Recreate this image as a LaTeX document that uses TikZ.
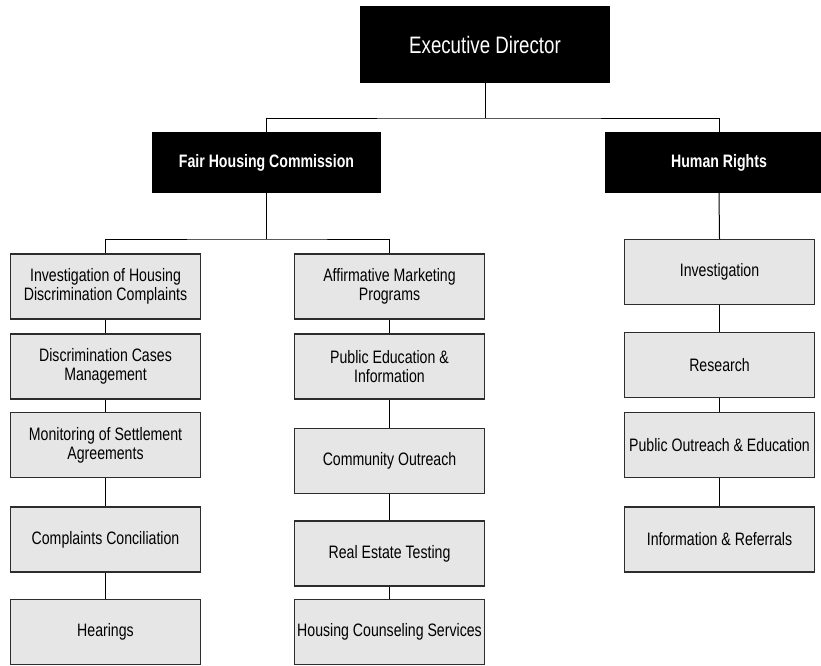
\documentclass[tikz,border=0pt]{standalone}
\usepackage{fontspec}
\setmainfont[FakeStretch=0.785]{Liberation Sans}
\definecolor{boxfill}{RGB}{230,230,230}
\definecolor{boxline}{RGB}{45,45,45}
\begin{document}
\begin{tikzpicture}[x=1pt,y=-1pt,
  topbox/.style={fill=black,draw=none,text=white,inner sep=2pt,align=center},
  unit/.style={fill=boxfill,draw=boxline,line width=1.1pt,minimum width=190pt,minimum height=65pt,inner sep=2pt,align=center,font=\fontsize{18}{19}\selectfont},
  conn/.style={draw=black,line width=1pt}]
\useasboundingbox (0,0) rectangle (821,665);
\fill[white] (0,0) rectangle (821,665);
% top level
\node[topbox,minimum width=250pt,minimum height=77pt,font=\fontsize{23.8}{27}\selectfont] (ed) at (485,44.5) {Executive Director};
\node[topbox,minimum width=229pt,minimum height=61pt,font=\bfseries\fontsize{18}{21}\selectfont] (fh) at (266.5,162.5) {Fair Housing Commission};
\node[topbox,minimum width=228pt,minimum height=61pt,font=\bfseries\fontsize{18}{21}\selectfont] (hr) at (719,162.5) {Human Rights};
% left column
\node[unit] (l1) at (105.5,286.5) {Investigation of Housing\\Discrimination Complaints};
\node[unit] (l2) at (105.5,366.5) {Discrimination Cases\\Management};
\node[unit] (l3) at (105.5,445) {Monitoring of Settlement\\Agreements};
\node[unit] (l4) at (105.5,539.5) {Complaints Conciliation};
\node[unit] (l5) at (105.5,632) {Hearings};
% middle column
\node[unit] (m1) at (389.5,286.5) {Affirmative Marketing\\Programs};
\node[unit] (m2) at (389.5,366.5) {Public Education \&\\Information};
\node[unit] (m3) at (389.5,461) {Community Outreach};
\node[unit] (m4) at (389.5,553.5) {Real Estate Testing};
\node[unit] (m5) at (389.5,632) {Housing Counseling Services};
% right column
\node[unit] (r1) at (719.5,272) {Investigation};
\node[unit] (r2) at (719.5,365) {Research};
\node[unit] (r3) at (719.5,445) {Public Outreach \& Education};
\node[unit] (r4) at (719.5,539.5) {Information \& Referrals};
% connectors
\coordinate (b1) at (485,118);
\coordinate (b2) at (266.5,239);
\draw[conn] (ed.south) -- (b1);
\draw[conn] (fh.north) |- (b1) -| (hr.north);
\draw[conn] (fh.south) -- (b2);
\draw[conn] (l1.north) |- (b2) -| (m1.north);
\draw[conn] (l1.south) -- (l2.north);
\draw[conn] (l2.south) -- (l3.north);
\draw[conn] (l3.south) -- (l4.north);
\draw[conn] (l4.south) -- (l5.north);
\draw[conn] (m1.south) -- (m2.north);
\draw[conn] (m2.south) -- (m3.north);
\draw[conn] (m3.south) -- (m4.north);
\draw[conn] (m4.south) -- (m5.north);
\draw[conn] (hr.south) -- (r1.north);
\draw[conn] (r1.south) -- (r2.north);
\draw[conn] (r2.south) -- (r3.north);
\draw[conn] (r3.south) -- (r4.north);
\end{tikzpicture}
\end{document}
